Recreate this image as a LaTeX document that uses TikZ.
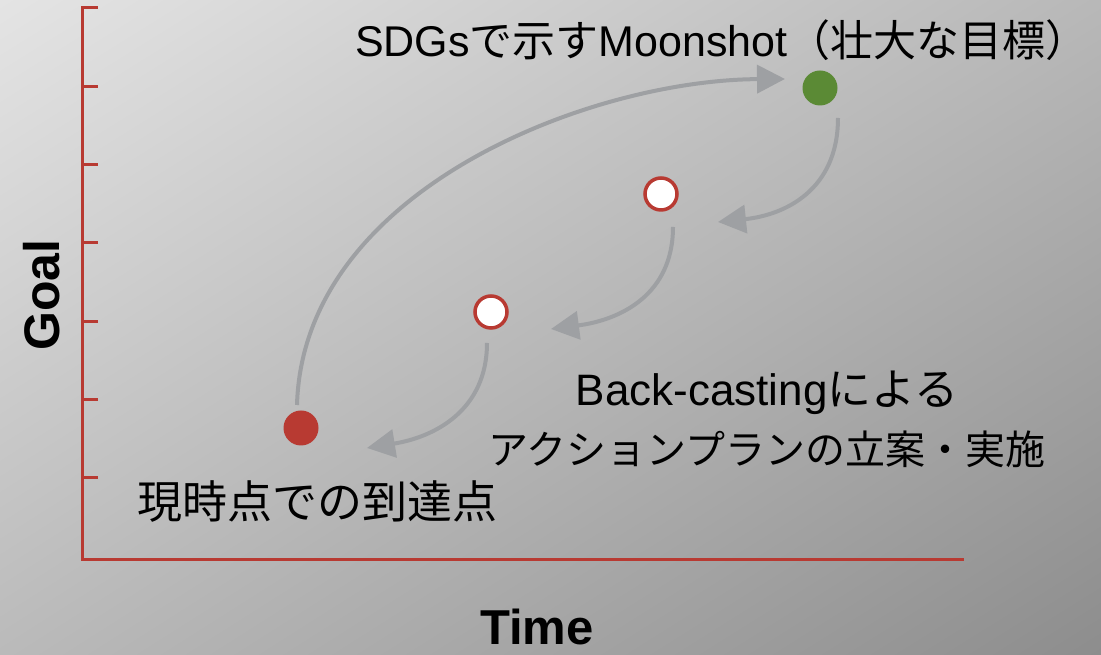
\documentclass[tikz,border=0pt]{standalone}
\usepackage{fontspec}
\setmainfont{Liberation Sans}
\newfontfamily\jp{Noto Sans CJK JP}
\usetikzlibrary{arrows.meta,shadings}
\definecolor{axred}{RGB}{184,58,50}
\definecolor{dotgreen}{RGB}{91,138,53}
\definecolor{arrgray}{RGB}{158,160,163}
\definecolor{bgul}{RGB}{228,228,228}
\definecolor{bgur}{RGB}{184,184,184}
\definecolor{bgll}{RGB}{186,186,186}
\definecolor{bglr}{RGB}{141,141,141}
\begin{document}
\begin{tikzpicture}[x=1pt,y=1pt,
  axisline/.style={draw=axred, line width=3pt},
  conn/.style={draw=arrgray, line width=4pt, -{Triangle[length=28pt,width=28pt]}},
  fulldot/.style={circle, inner sep=0pt, minimum size=35pt},
  opendot/.style={circle, draw=axred, line width=3.5pt, fill=white, inner sep=0pt, minimum size=32pt},
  lbl/.style={inner sep=0pt, text=black}]
\useasboundingbox (0,0) rectangle (1101,655);
\shade[upper left=bgul, upper right=bgur, lower left=bgll, lower right=bglr]
  (0,0) rectangle (1101,655);
% axes
\coordinate (ytop) at (82,647);
\coordinate (orig) at (82,95);
\coordinate (xend) at (962,95);
\draw[axisline, line cap=rect] (ytop) -- (orig) -- (xend);
\foreach \yy in {647,568,490,412,333,255,177}
  \draw[axisline] (82,\yy) -- (98,\yy);
% dots
\node[fulldot, fill=dotgreen] (g) at (820,567) {};
\node[opendot] (a) at (661,461) {};
\node[opendot] (b) at (491,343) {};
\node[fulldot, fill=axred] (r) at (301,227) {};
% connector ends
\coordinate (s1) at (297,250);
\coordinate (t1) at (785,576);
\coordinate (s2) at (838,537);
\coordinate (t2) at (718,433);
\coordinate (s3) at (673,428);
\coordinate (t3) at (551,326);
\coordinate (s4) at (487,312);
\coordinate (t4) at (367,207);
\draw[conn] (s1) .. controls (303,465) and (590,575) .. (t1);
\draw[conn] (s2) .. controls (838,465) and (785,440) .. (t2);
\draw[conn] (s3) .. controls (673,360) and (620,335) .. (t3);
\draw[conn] (s4) .. controls (487,245) and (435,218) .. (t4);
% labels
\node[lbl, font=\fontsize{43}{50}\selectfont] (topl) at (722,615) {SDGs{\jp で示す}Moonshot{\jp （壮大な目標）}};
\node[lbl, font=\fontsize{44}{50}\selectfont] (bc1) at (767,262) {Back-casting{\jp による}};
\node[lbl, font=\fontsize{40}{48}\selectfont] (bc2) at (767,206) {\jp アクションプランの立案・実施};
\node[lbl, font=\fontsize{45}{52}\selectfont] (now) at (317,153) {\jp 現時点での到達点};
\node[lbl, font=\fontsize{50}{60}\selectfont\bfseries, rotate=90, anchor=base] (goal) at (59,360) {Goal};
\node[lbl, font=\fontsize{49}{58}\selectfont\bfseries, anchor=base] (time) at (537,10) {Time};
\end{tikzpicture}
\end{document}
